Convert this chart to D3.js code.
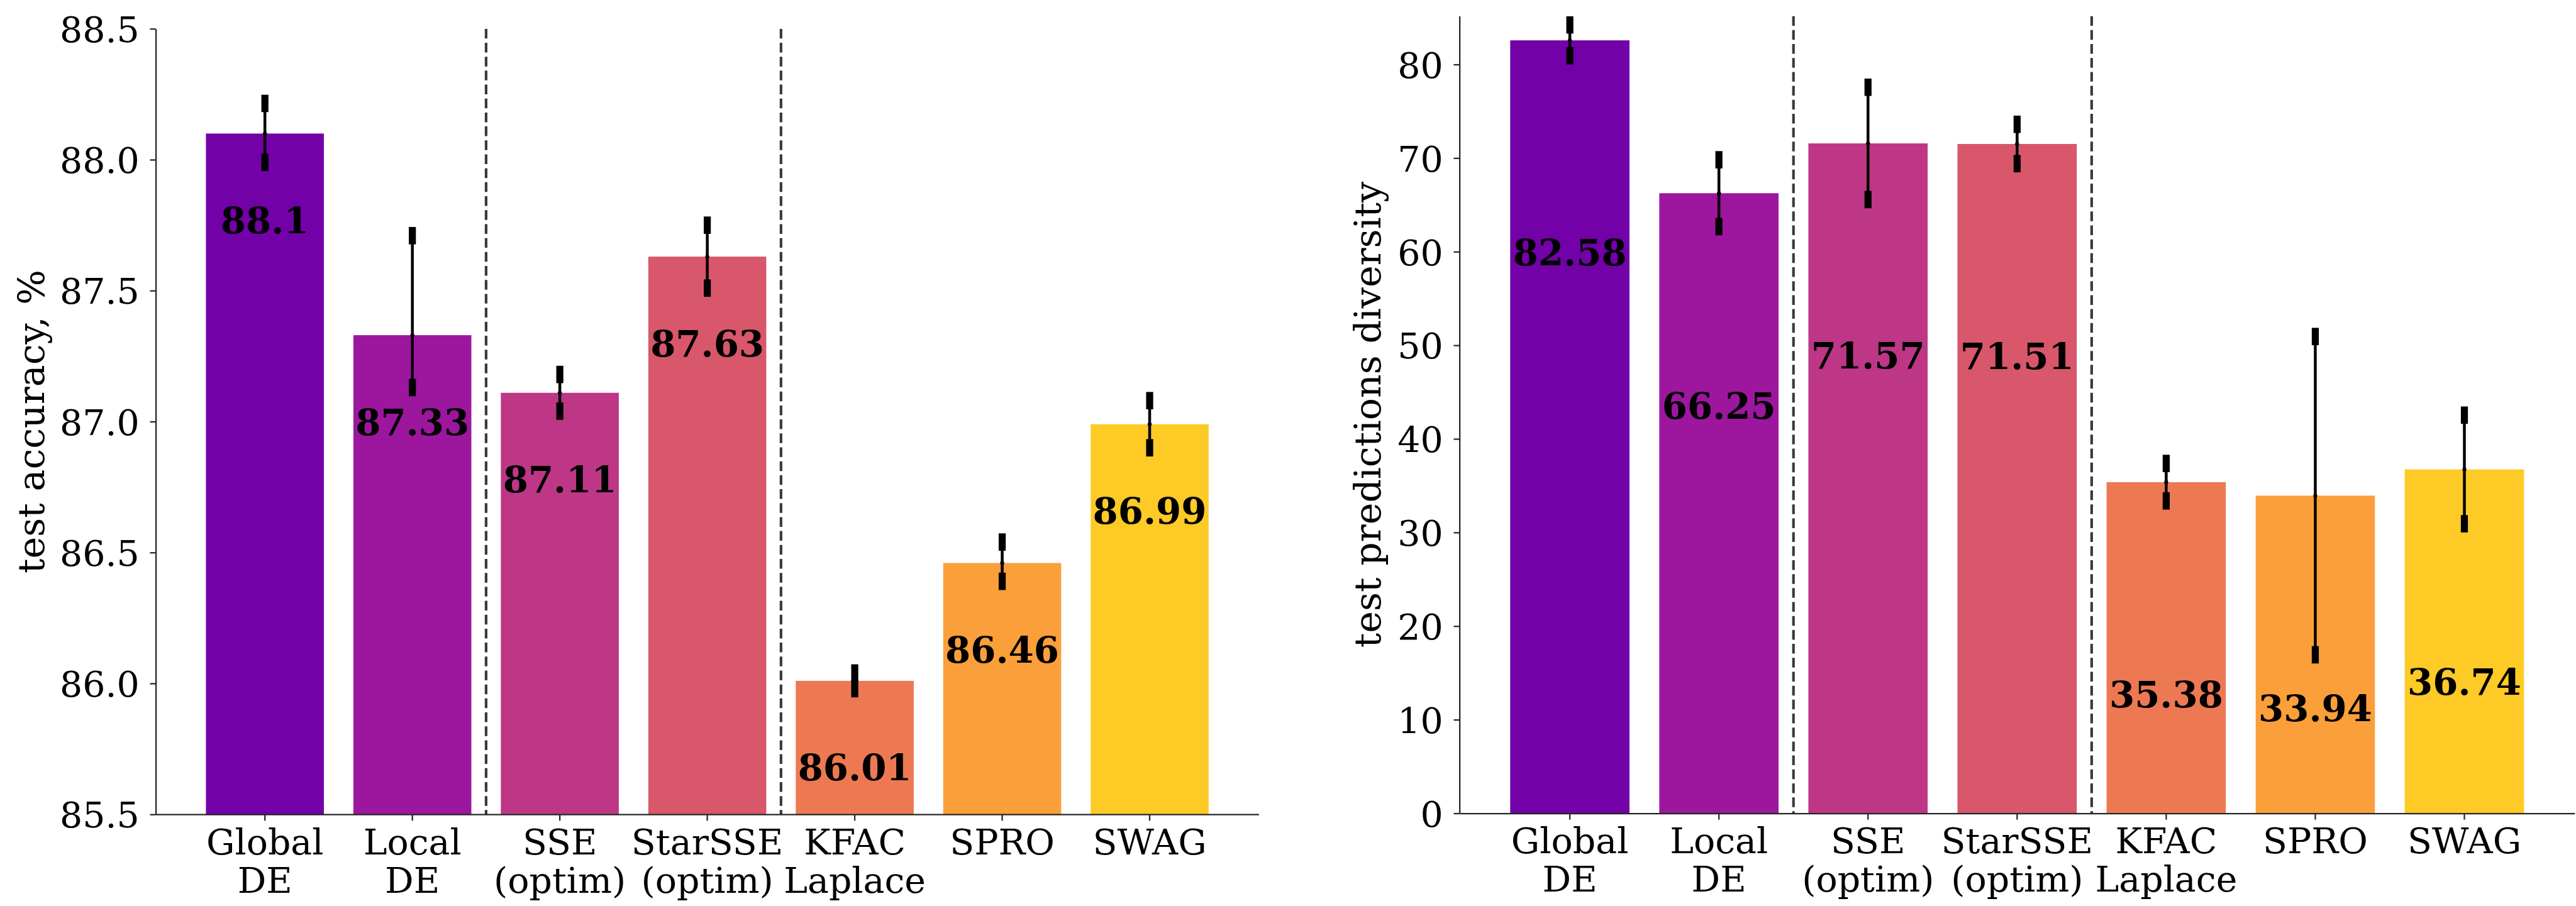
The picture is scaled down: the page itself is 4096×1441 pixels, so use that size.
<!DOCTYPE html>
<html>
<head>
<meta charset="utf-8">
<script src="https://cdn.jsdelivr.net/npm/d3@7"></script>
<style>
  html, body { margin: 0; padding: 0; background: #ffffff; overflow: hidden; }
  svg { display: block; }
</style>
</head>
<body>
<svg id="fig"></svg>
<script>
// ---- data -------------------------------------------------------------
const methods = ["Global\nDE", "Local\nDE", "SSE\n(optim)", "StarSSE\n(optim)", "KFAC\nLaplace", "SPRO", "SWAG"];
const barColors = ["#7201a8", "#9c179e", "#bd3786", "#d8576b", "#ed7953", "#fb9f3a", "#fdca26"];

const accuracy        = [88.1, 87.33, 87.11, 87.63, 86.01, 86.46, 86.99];
const accuracyErrLow  = [0.11, 0.20, 0.07, 0.12, 0.03, 0.07, 0.09];
const accuracyErrHigh = [0.115, 0.38, 0.07, 0.12, 0.03, 0.08, 0.09];
const accuracyTicks   = [85.5, 86.0, 86.5, 87.0, 87.5, 88.0, 88.5];

const diversity        = [82.58, 66.25, 71.57, 71.51, 35.38, 33.94, 36.74];
const diversityErrLow  = [1.65, 3.57, 6.0, 2.1, 2.0, 17.0, 5.8];
const diversityErrHigh = [1.65, 3.57, 6.0, 2.1, 2.0, 17.0, 5.8];
const diversityTicks   = [0, 10, 20, 30, 40, 50, 60, 70, 80];

// group boundaries (dashed separators after these bar indices)
const groupBreaks = [1, 3];

// ---- figure ------------------------------------------------------------
const W = 4891, H = 1721;
const svg = d3.select("#fig")
  .attr("width", 4096).attr("height", 1441)
  .attr("viewBox", `0 0 ${W} ${H}`);

const FONT = "'DejaVu Serif', 'Liberation Serif', serif";
const tickFs = 68, labelFs = 70, valueFs = 69;
const inkColor = "#262626";

const panels = [
  {
    id: "acc", values: accuracy, errLow: accuracyErrLow, errHigh: accuracyErrHigh,
    ticks: accuracyTicks, fmt: d3.format(".1f"),
    domain: [85.5, 88.5], left: 295.4, right: 2390, top: 54.7, bottom: 1547,
    labelDrop: 0.33, ylabel: "test accuracy, %", ylabelX: 83
  },
  {
    id: "div", values: diversity, errLow: diversityErrLow, errHigh: diversityErrHigh,
    ticks: diversityTicks, fmt: d3.format("d"),
    domain: [0, 85.17], left: 2771.2, right: 4889, top: 30.6, bottom: 1545,
    labelDrop: 22.65, ylabel: "test predictions diversity", ylabelX: 2621
  }
];

panels.forEach(p => {
  const g = svg.append("g").attr("class", "panel-" + p.id);

  const x = d3.scaleBand()
    .domain(d3.range(methods.length))
    .range([p.left, p.right])
    .paddingInner(0.2)
    .paddingOuter(0.34)
    .align(0.5);

  const y = d3.scaleLinear().domain(p.domain).range([p.bottom, p.top]);

  const clipId = "clip-" + p.id;
  svg.append("clipPath").attr("id", clipId)
    .append("rect")
    .attr("x", p.left).attr("y", p.top)
    .attr("width", p.right - p.left).attr("height", p.bottom - p.top);

  const plot = g.append("g").attr("clip-path", `url(#${clipId})`);

  // bars
  plot.selectAll("rect.bar")
    .data(p.values)
    .join("rect")
    .attr("class", "bar")
    .attr("x", (d, i) => x(i))
    .attr("width", x.bandwidth())
    .attr("y", d => y(d))
    .attr("height", d => y(p.domain[0]) - y(d))
    .attr("fill", (d, i) => barColors[i]);

  // dashed separators between method groups
  groupBreaks.forEach(b => {
    const xs = (x(b) + x.bandwidth() + x(b + 1)) / 2;
    plot.append("line")
      .attr("x1", xs).attr("x2", xs)
      .attr("y1", p.top).attr("y2", p.bottom)
      .attr("stroke", "#3a3a3a")
      .attr("stroke-width", 5)
      .attr("stroke-dasharray", "18.5 8");
  });

  // error bars
  const eb = plot.selectAll("g.err")
    .data(p.values)
    .join("g")
    .attr("class", "err");
  const cx = i => x(i) + x.bandwidth() / 2;
  eb.append("line")
    .attr("x1", (d, i) => cx(i)).attr("x2", (d, i) => cx(i))
    .attr("y1", (d, i) => y(d - p.errLow[i]))
    .attr("y2", (d, i) => y(d + p.errHigh[i]))
    .attr("stroke", "#000").attr("stroke-width", 5.4);
  eb.append("circle")
    .attr("cx", (d, i) => cx(i)).attr("cy", d => y(d))
    .attr("r", 3.8).attr("fill", "#000");
  const capW = 13.4, capH = 33;
  [["lo", (d, i) => d - p.errLow[i]], ["hi", (d, i) => d + p.errHigh[i]]].forEach(([k, fn]) => {
    eb.append("rect")
      .attr("class", "cap-" + k)
      .attr("x", (d, i) => cx(i) - capW / 2)
      .attr("y", (d, i) => y(fn(d, i)) - capH / 2)
      .attr("width", capW).attr("height", capH)
      .attr("fill", "#000");
  });

  // value labels inside the bars
  g.selectAll("text.value")
    .data(p.values)
    .join("text")
    .attr("class", "value")
    .attr("x", (d, i) => cx(i))
    .attr("y", d => y(d - p.labelDrop) + 0.3645 * valueFs)
    .attr("text-anchor", "middle")
    .attr("font-family", FONT)
    .attr("font-weight", "bold")
    .attr("font-size", valueFs)
    .attr("fill", "#000")
    .text(d => String(d));

  // y axis
  const yAxis = g.append("g")
    .attr("transform", `translate(${p.left},0)`)
    .call(d3.axisLeft(y).tickValues(p.ticks).tickFormat(p.fmt)
      .tickSizeInner(11).tickSizeOuter(0).tickPadding(20));
  yAxis.select(".domain").attr("stroke", inkColor).attr("stroke-width", 2.7);
  yAxis.selectAll(".tick line").attr("stroke", inkColor).attr("stroke-width", 2.7);
  yAxis.selectAll(".tick text")
    .attr("font-family", FONT).attr("font-size", tickFs)
    .attr("fill", "#000").attr("dy", "0.3645em");

  // x axis
  const xAxis = g.append("g")
    .attr("transform", `translate(0,${p.bottom})`)
    .call(d3.axisBottom(x).tickFormat("").tickSizeInner(12).tickSizeOuter(0));
  xAxis.select(".domain").attr("stroke", inkColor).attr("stroke-width", 2.7);
  xAxis.selectAll(".tick line").attr("stroke", inkColor).attr("stroke-width", 2.7);
  xAxis.selectAll(".tick text").remove();
  xAxis.selectAll(".tick").each(function (d) {
    const t = d3.select(this).append("text")
      .attr("text-anchor", "middle")
      .attr("font-family", FONT).attr("font-size", tickFs)
      .attr("fill", "#000");
    methods[d].split("\n").forEach((line, j) => {
      t.append("tspan").attr("x", 0).attr("y", 76 + j * 72.5).text(line);
    });
  });

  // y axis title
  g.append("text")
    .attr("transform", `translate(${p.ylabelX},${(p.top + p.bottom) / 2}) rotate(-90)`)
    .attr("text-anchor", "middle")
    .attr("font-family", FONT).attr("font-size", labelFs)
    .attr("fill", "#000")
    .text(p.ylabel);
});
</script>
</body>
</html>
